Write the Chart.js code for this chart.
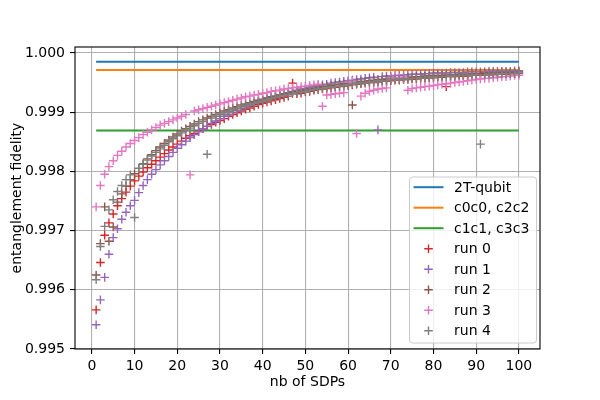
<!DOCTYPE html>
<html>
<head>
<meta charset="utf-8">
<script src="https://cdn.jsdelivr.net/npm/chart.js@4.4.0/dist/chart.umd.min.js"></script>
<style>
  html, body { margin: 0; padding: 0; background: #fff; }
  #wrap { width: 600px; height: 400px; }
</style>
</head>
<body>
<div id="wrap"><canvas id="fidelityChart" width="600" height="400"></canvas></div>
<script>
// number of SDPs (x positions of every run)
const nbSDPs = [
  1, 2, 3, 4, 5, 6, 7, 8, 9, 10, 11, 12, 13, 14, 15, 16, 17, 18, 19, 20,
  21, 22, 23, 24, 25, 26, 27, 28, 29, 30, 31, 32, 33, 34, 35, 36, 37, 38, 39, 40,
  41, 42, 43, 44, 45, 46, 47, 48, 49, 50, 51, 52, 53, 54, 55, 56, 57, 58, 59, 60,
  61, 62, 63, 64, 65, 66, 67, 68, 69, 70, 71, 72, 73, 74, 75, 76, 77, 78, 79, 80,
  81, 82, 83, 84, 85, 86, 87, 88, 89, 90, 91, 92, 93, 94, 95, 96, 97, 98, 99, 100
];

// reference levels (horizontal lines)
const refLabels = ['2T-qubit', 'c0c0, c2c2', 'c1c1, c3c3'];
const refLevels = [0.999853, 0.99971, 0.99869];
const refStart = 1;
const refEnd = 100;

const runLabels = ['run 0', 'run 1', 'run 2', 'run 3', 'run 4'];

const run0 = [
  0.99566, 0.99646, 0.99692, 0.99713, 0.99728, 0.99742, 0.99754, 0.99765, 0.99775, 0.99784,
  0.99792, 0.99799, 0.99806, 0.99812, 0.99818, 0.99824, 0.99830, 0.99836, 0.99841, 0.99846,
  0.99851, 0.99856, 0.99860, 0.99864, 0.99868, 0.99872, 0.99876, 0.99879, 0.99883, 0.99886,
  0.99889, 0.99893, 0.99896, 0.99899, 0.99902, 0.99905, 0.99907, 0.99910, 0.99913, 0.99915,
  0.99917, 0.99919, 0.99921, 0.99923, 0.99925, 0.99927, 0.99949, 0.99931, 0.99932, 0.99934,
  0.99935, 0.99937, 0.99938, 0.99939, 0.99940, 0.99941, 0.99942, 0.99943, 0.99944, 0.99945,
  0.99946, 0.99947, 0.99948, 0.99949, 0.99950, 0.99950, 0.99951, 0.99952, 0.99952, 0.99953,
  0.99954, 0.99954, 0.99955, 0.99955, 0.99956, 0.99956, 0.99957, 0.99957, 0.99958, 0.99958,
  0.99959, 0.99959, 0.99943, 0.99960, 0.99960, 0.99961, 0.99961, 0.99961, 0.99962, 0.99962,
  0.99962, 0.99963, 0.99963, 0.99963, 0.99964, 0.99964, 0.99964, 0.99965, 0.99965, 0.99965
];

const run1 = [
  0.99541, 0.99583, 0.99621, 0.99660, 0.99688, 0.99703, 0.99719, 0.99731, 0.99742, 0.99751,
  0.99764, 0.99776, 0.99786, 0.99795, 0.99803, 0.99811, 0.99818, 0.99825, 0.99832, 0.99839,
  0.99845, 0.99851, 0.99857, 0.99862, 0.99867, 0.99872, 0.99876, 0.99881, 0.99885, 0.99889,
  0.99893, 0.99896, 0.99900, 0.99903, 0.99906, 0.99909, 0.99912, 0.99915, 0.99918, 0.99920,
  0.99923, 0.99925, 0.99927, 0.99929, 0.99931, 0.99933, 0.99935, 0.99937, 0.99939, 0.99940,
  0.99942, 0.99943, 0.99945, 0.99946, 0.99947, 0.99949, 0.99950, 0.99951, 0.99952, 0.99953,
  0.99954, 0.99955, 0.99956, 0.99957, 0.99958, 0.99959, 0.99870, 0.99960, 0.99961, 0.99961,
  0.99962, 0.99962, 0.99963, 0.99963, 0.99964, 0.99964, 0.99964, 0.99965, 0.99965, 0.99966,
  0.99966, 0.99966, 0.99966, 0.99967, 0.99967, 0.99967, 0.99967, 0.99968, 0.99968, 0.99968,
  0.99968, 0.99968, 0.99969, 0.99969, 0.99969, 0.99969, 0.99969, 0.99969, 0.99970, 0.99970
];

const run2 = [
  0.99625, 0.99678, 0.99740, 0.99682, 0.99706, 0.99748, 0.99762, 0.99775, 0.99786, 0.99796,
  0.99805, 0.99813, 0.99821, 0.99828, 0.99835, 0.99841, 0.99847, 0.99853, 0.99858, 0.99863,
  0.99868, 0.99872, 0.99876, 0.99880, 0.99884, 0.99887, 0.99890, 0.99893, 0.99896, 0.99899,
  0.99902, 0.99904, 0.99907, 0.99909, 0.99912, 0.99914, 0.99916, 0.99918, 0.99920, 0.99922,
  0.99924, 0.99926, 0.99927, 0.99929, 0.99931, 0.99932, 0.99934, 0.99935, 0.99937, 0.99938,
  0.99939, 0.99940, 0.99942, 0.99943, 0.99944, 0.99945, 0.99946, 0.99947, 0.99948, 0.99949,
  0.99912, 0.99951, 0.99952, 0.99952, 0.99953, 0.99954, 0.99955, 0.99955, 0.99956, 0.99957,
  0.99957, 0.99958, 0.99958, 0.99959, 0.99959, 0.99960, 0.99960, 0.99961, 0.99961, 0.99962,
  0.99962, 0.99962, 0.99963, 0.99963, 0.99963, 0.99964, 0.99964, 0.99964, 0.99965, 0.99965,
  0.99965, 0.99966, 0.99966, 0.99966, 0.99966, 0.99967, 0.99967, 0.99967, 0.99967, 0.99968
];

const run3 = [
  0.99740, 0.99776, 0.99795, 0.99808, 0.99818, 0.99827, 0.99834, 0.99841, 0.99847, 0.99852,
  0.99857, 0.99862, 0.99866, 0.99870, 0.99874, 0.99878, 0.99881, 0.99884, 0.99887, 0.99890,
  0.99893, 0.99896, 0.99794, 0.99902, 0.99904, 0.99906, 0.99908, 0.99910, 0.99912, 0.99914,
  0.99916, 0.99918, 0.99920, 0.99922, 0.99924, 0.99926, 0.99927, 0.99929, 0.99930, 0.99932,
  0.99933, 0.99935, 0.99936, 0.99937, 0.99939, 0.99940, 0.99941, 0.99942, 0.99943, 0.99944,
  0.99945, 0.99946, 0.99947, 0.99910, 0.99929, 0.99930, 0.99931, 0.99932, 0.99933, 0.99951,
  0.99952, 0.99864, 0.99927, 0.99932, 0.99935, 0.99937, 0.99939, 0.99940, 0.99941, 0.99958,
  0.99958, 0.99959, 0.99959, 0.99937, 0.99940, 0.99941, 0.99942, 0.99943, 0.99944, 0.99945,
  0.99946, 0.99947, 0.99948, 0.99949, 0.99950, 0.99951, 0.99952, 0.99953, 0.99954, 0.99955,
  0.99956, 0.99957, 0.99957, 0.99958, 0.99959, 0.99960, 0.99960, 0.99961, 0.99962, 0.99962
];

const run4 = [
  0.99617, 0.99673, 0.99707, 0.99735, 0.99752, 0.99766, 0.99776, 0.99786, 0.99794, 0.99722,
  0.99805, 0.99812, 0.99819, 0.99826, 0.99832, 0.99838, 0.99844, 0.99850, 0.99855, 0.99860,
  0.99865, 0.99869, 0.99873, 0.99877, 0.99881, 0.99884, 0.99829, 0.99890, 0.99893, 0.99896,
  0.99899, 0.99901, 0.99904, 0.99906, 0.99909, 0.99911, 0.99913, 0.99915, 0.99917, 0.99919,
  0.99921, 0.99923, 0.99925, 0.99927, 0.99928, 0.99930, 0.99931, 0.99933, 0.99934, 0.99935,
  0.99937, 0.99938, 0.99939, 0.99940, 0.99941, 0.99942, 0.99943, 0.99944, 0.99945, 0.99946,
  0.99947, 0.99948, 0.99949, 0.99950, 0.99951, 0.99951, 0.99952, 0.99953, 0.99953, 0.99954,
  0.99955, 0.99955, 0.99956, 0.99956, 0.99957, 0.99957, 0.99958, 0.99958, 0.99959, 0.99959,
  0.99960, 0.99960, 0.99960, 0.99961, 0.99961, 0.99962, 0.99962, 0.99962, 0.99963, 0.99963,
  0.99846, 0.99963, 0.99964, 0.99964, 0.99964, 0.99965, 0.99965, 0.99965, 0.99965, 0.99966
];

const runs = [run0, run1, run2, run3, run4];

const xTicks = [0, 10, 20, 30, 40, 50, 60, 70, 80, 90, 100];
const yTicks = [0.995, 0.996, 0.997, 0.998, 0.999, 1.000];

const refColors = ['#1f77b4', '#ff7f0e', '#2ca02c'];
const runColors = ['#d62728', '#9467bd', '#8c564b', '#e377c2', '#7f7f7f'];

Chart.defaults.font.family = 'DejaVu Sans';
Chart.defaults.font.size = 14;
Chart.defaults.color = '#000';

// build datasets, later ones drawn on top like matplotlib
const datasets = [];
refLevels.forEach((lvl, i) => {
  datasets.push({
    label: refLabels[i],
    data: [{ x: refStart, y: lvl }, { x: refEnd, y: lvl }],
    showLine: true,
    borderColor: refColors[i],
    borderWidth: 2,
    pointRadius: 0,
    fill: false
  });
});
runs.forEach((vals, i) => {
  datasets.push({
    label: runLabels[i],
    data: vals.map((v, j) => ({ x: nbSDPs[j], y: v })),
    showLine: false,
    pointStyle: 'cross',
    pointRadius: 4.3,
    pointBorderWidth: 1.4,
    borderColor: runColors[i],
    backgroundColor: runColors[i]
  });
});
datasets.forEach((d, i) => { d.order = datasets.length - i; });

// matplotlib-like frame around the axes
const frame = {
  id: 'frame',
  afterDatasetsDraw(chart) {
    const { ctx, chartArea: a } = chart;
    ctx.save();
    ctx.strokeStyle = '#000';
    ctx.lineWidth = 1.1;
    ctx.strokeRect(a.left, a.top, a.right - a.left, a.bottom - a.top);
    ctx.restore();
  }
};

// legend box inside the lower right corner
const insideLegend = {
  id: 'insideLegend',
  afterDraw(chart) {
    const { ctx, chartArea: a } = chart;
    const w = 127, h = 166, rowH = 20.5;
    const x0 = a.right - 4 - w, y0 = a.bottom - 6.5 - h;
    ctx.save();
    ctx.beginPath();
    ctx.roundRect(x0 + 0.5, y0 + 0.5, w, h, 3);
    ctx.fillStyle = 'rgba(255,255,255,0.8)';
    ctx.fill();
    ctx.strokeStyle = '#cccccc';
    ctx.lineWidth = 1;
    ctx.stroke();
    ctx.font = '14px "DejaVu Sans"';
    ctx.textBaseline = 'middle';
    ctx.fillStyle = '#000';
    const labels = refLabels.concat(runLabels);
    const colors = refColors.concat(runColors);
    labels.forEach((lab, i) => {
      const yy = y0 + 10.7 + i * rowH;
      ctx.strokeStyle = colors[i];
      if (i < refLabels.length) {
        ctx.lineWidth = 2;
        ctx.beginPath();
        ctx.moveTo(x0 + 4.5, yy);
        ctx.lineTo(x0 + 34.5, yy);
        ctx.stroke();
      } else {
        const cx = x0 + 19.5, r = 4.3;
        ctx.lineWidth = 1.4;
        ctx.beginPath();
        ctx.moveTo(cx - r, yy);
        ctx.lineTo(cx + r, yy);
        ctx.moveTo(cx, yy - r);
        ctx.lineTo(cx, yy + r);
        ctx.stroke();
      }
      ctx.fillText(lab, x0 + 45, yy + 1);
    });
    ctx.restore();
  }
};

new Chart(document.getElementById('fidelityChart'), {
  type: 'scatter',
  data: { datasets: datasets },
  options: {
    responsive: false,
    animation: false,
    devicePixelRatio: 1,
    layout: { padding: { left: 0, right: 60, top: 47, bottom: 0 } },
    plugins: {
      legend: { display: false },
      tooltip: { enabled: false }
    },
    scales: {
      x: {
        type: 'linear',
        min: -3.95,
        max: 104.95,
        afterBuildTicks: (s) => { s.ticks = xTicks.map(v => ({ value: v })); },
        afterFit: (s) => { s.height = 51; },
        ticks: { autoSkip: false, maxRotation: 0, padding: 4, callback: (v) => String(v) },
        grid: { color: '#b0b0b0', lineWidth: 1.1, tickColor: '#000', tickLength: 5, tickWidth: 1.1 },
        border: { display: false },
        title: { display: true, text: 'nb of SDPs', padding: { top: 0, bottom: 9 } }
      },
      y: {
        type: 'linear',
        min: 0.995,
        max: 1.0001,
        afterBuildTicks: (s) => { s.ticks = yTicks.map(v => ({ value: v })); },
        afterFit: (s) => { s.width = 75; },
        ticks: { autoSkip: false, padding: 5, callback: (v) => Number(v).toFixed(3) },
        grid: { color: '#b0b0b0', lineWidth: 1.1, tickColor: '#000', tickLength: 5, tickWidth: 1.1 },
        border: { display: false },
        title: { display: true, text: 'entanglement fidelity', padding: { top: 9, bottom: 0 } }
      }
    }
  },
  plugins: [frame, insideLegend]
});
</script>
</body>
</html>
